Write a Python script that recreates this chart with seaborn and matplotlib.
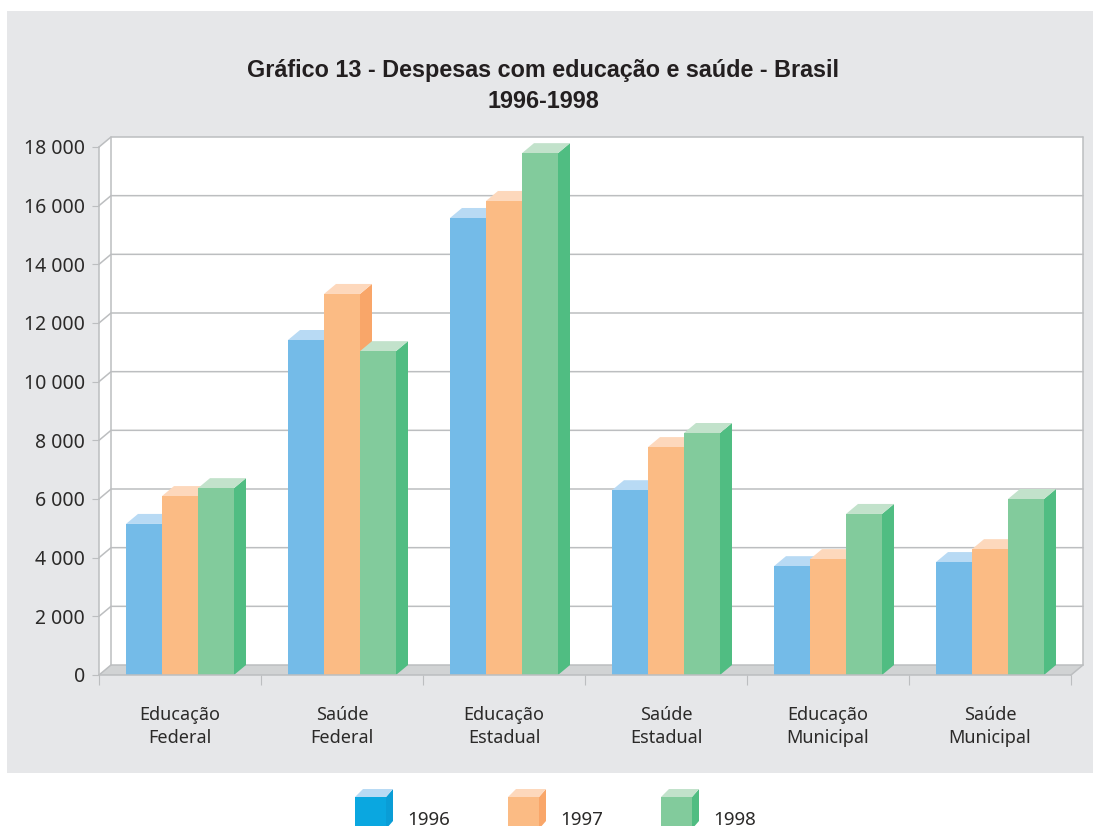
import pandas as pd
import matplotlib.pyplot as plt
from matplotlib.patches import Polygon, Rectangle
import seaborn as sns

# Data
categories = ['Educação\nFederal', 'Saúde\nFederal', 'Educação\nEstadual',
              'Saúde\nEstadual', 'Educação\nMunicipal', 'Saúde\nMunicipal']
years = ['1996', '1997', '1998']
values_1996 = [5150, 11420, 15580, 6300, 3710, 3850]
values_1997 = [6100, 12990, 16160, 7770, 3950, 4290]
values_1998 = [6370, 11040, 17790, 8250, 5490, 6000]
y_ticks = [0, 2000, 4000, 6000, 8000, 10000, 12000, 14000, 16000, 18000]

# Colours
front_colors = ['#74BBE8', '#FBBB84', '#82CB9C']
top_colors = ['#B8DAF4', '#FDD8BC', '#C2E2CB']
side_colors = ['#5FB0E4', '#F9A669', '#50BD82']
legend_front = ['#0AA7E0', '#FBBB84', '#82CB9C']
legend_side = ['#0A9DD6', '#F9A669', '#50BD82']
grid_color = '#BCBEC0'
panel_color = '#E6E7E9'
floor_color = '#D1D3D4'
text_color = '#2B2A29'

df = pd.DataFrame({
    'category': categories * 3,
    'year': [y for y in years for _ in categories],
    'value': values_1996 + values_1997 + values_1998,
})

W, H = 1093, 826
sns.set_style('white')
plt.rcParams['font.family'] = ['Noto Sans', 'DejaVu Sans']

fig = plt.figure(figsize=(W / 100, H / 100), dpi=100, facecolor='white')

# background layer in pixel coordinates (panel, legend)
bg = fig.add_axes([0, 0, 1, 1], zorder=0)
bg.set_xlim(0, W)
bg.set_ylim(H, 0)
bg.axis('off')
bg.add_patch(Rectangle((7, 11), W - 7, 761.5, fc=panel_color, ec='none'))

# plot area: front plane of the 3D box
ax = fig.add_axes([99 / W, 1 - 675 / H, 972 / W, 528 / H], zorder=1)
ax.patch.set_alpha(0)

sns.barplot(data=df, x='category', y='value', hue='year', palette=front_colors,
            width=2 / 3, gap=0, saturation=1, legend=False, errorbar=None,
            linewidth=0, ax=ax)

ax.set_xlim(-0.5, 5.5)
ax.set_ylim(0, 18000)

# depth of the fake 3D effect in data units
dx = 12 / 162
dy = 10 * 18000 / 528
x0, x1 = -0.5, 5.5
top = y_ticks[-1]

# walls and floor
ax.add_patch(Polygon([(x0, 0), (x0 + dx, dy), (x1 + dx, dy), (x1 + dx, top + dy),
                      (x0 + dx, top + dy), (x0, top)],
                     fc='white', ec='none', zorder=0.5, clip_on=False))
ax.add_patch(Polygon([(x0, 0), (x1, 0), (x1 + dx, dy), (x0 + dx, dy)],
                     fc=floor_color, ec='none', zorder=0.6, clip_on=False))

line = dict(color=grid_color, lw=1.1, zorder=0.8, clip_on=False)
for v in y_ticks:
    ax.plot([x0, x0 + dx, x1 + dx], [v, v + dy, v + dy], **line)
ax.plot([x0 + dx, x0 + dx], [dy, top + dy], **line)
ax.plot([x1 + dx, x1 + dx], [dy, top + dy], **line)
ax.plot([x1, x1 + dx], [0, dy], **line)

# bars: side and top faces follow the bars seaborn drew
for i, cont in enumerate(ax.containers):
    for bar in cont:
        bar.set_zorder(3 + i + 0.2)
        bx0, bx1 = bar.get_x(), bar.get_x() + bar.get_width()
        h = bar.get_height()
        ax.add_patch(Polygon([(bx1, 0), (bx1 + dx, dy), (bx1 + dx, h + dy), (bx1, h)],
                             fc=side_colors[i], ec='none', zorder=3 + i, clip_on=False))
        ax.add_patch(Polygon([(bx0, h), (bx0 + dx, h + dy), (bx1 + dx, h + dy), (bx1, h)],
                             fc=top_colors[i], ec='none', zorder=3 + i, clip_on=False))

# axes
sns.despine(ax=ax, top=True, right=True)
for s in ['left', 'bottom']:
    ax.spines[s].set_color(grid_color)
    ax.spines[s].set_linewidth(1.1)
ax.spines['left'].set_zorder(0.9)
ax.spines['bottom'].set_zorder(10)

ax.set_yticks(y_ticks)
ax.set_yticklabels([f'{v:,}'.replace(',', ' ') for v in y_ticks])
ax.set_xticks(range(len(categories)))
ax.set_xticklabels(categories, linespacing=1.4)
ax.set_xticks([x0 + k for k in range(7)], minor=True)
ax.set_xlabel('')
ax.set_ylabel('')
ax.tick_params(axis='y', left=True, length=5, width=0.8, color=grid_color, pad=5,
               labelsize=14, labelcolor=text_color)
ax.tick_params(axis='x', which='major', length=0, pad=22, labelsize=13, labelcolor=text_color)
ax.tick_params(axis='x', which='minor', bottom=True, length=7, width=0.8, color=grid_color)

# title
bg.text(543, 71, 'Gráfico 13 - Despesas com educação e saúde - Brasil', ha='center', va='center',
        family='Liberation Sans', weight='bold', fontsize=16.8, color='#231F20')
bg.text(543, 102, '1996-1998', ha='center', va='center',
        family='Liberation Sans', weight='bold', fontsize=16.8, color='#231F20')

# legend cubes
for i, (lx, year) in enumerate(zip([355, 508, 661], years)):
    bg.add_patch(Rectangle((lx, 797), 31, 40, fc=legend_front[i], ec='none'))
    bg.add_patch(Polygon([(lx + 31, 797), (lx + 38, 789), (lx + 38, 821), (lx + 31, 829)],
                         fc=legend_side[i], ec='none'))
    bg.add_patch(Polygon([(lx, 797), (lx + 8, 789), (lx + 38, 789), (lx + 31, 797)],
                         fc=top_colors[i], ec='none'))
    bg.text(lx + 52, 825.3, year, ha='left', va='baseline', fontsize=13.5, color=text_color)

plt.savefig('out.png', dpi=100)
